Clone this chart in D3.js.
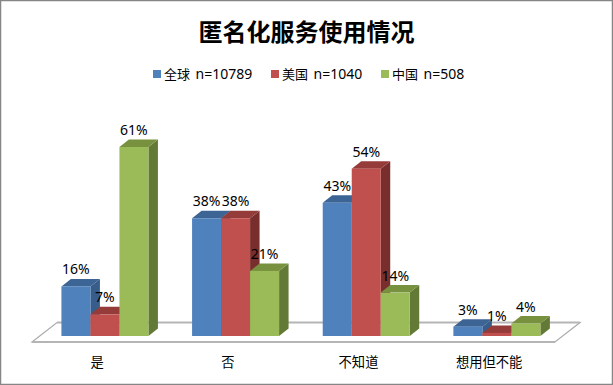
<!DOCTYPE html>
<html><head><meta charset="utf-8">
<script src="https://cdn.jsdelivr.net/npm/d3@7"></script>
<style>html,body{margin:0;padding:0;background:#fff}svg{display:block}</style>
</head><body><svg id="c" width="613" height="385"></svg>
<script>
const title = "匿名化服务使用情况";
const categories = ["是","否","不知道","想用但不能"];
const seriesNames = ["全球 n=10789","美国 n=1040","中国 n=508"];
const globalValues = [16,38,43,3];
const usValues = [7,38,54,1];
const chinaValues = [61,21,14,4];
const seriesValues = [globalValues,usValues,chinaValues];
const palette = [
 {front:"#4F81BD",top:"#3C6494",side:"#385D8A"},
 {front:"#C0504D",top:"#953B39",side:"#772E2C"},
 {front:"#9BBB59",top:"#78913F",side:"#637A36"}];
const font = "'Noto Sans CJK SC','Noto Sans',sans-serif";
const latin = "'Noto Sans','Noto Sans CJK SC',sans-serif";
const svg = d3.select("#c");
svg.append("rect").attr("x",.5).attr("y",.5).attr("width",612).attr("height",384)
  .attr("fill","#fff").attr("stroke","#868686").attr("stroke-width",1.5);
svg.append("text").attr("x",306.5).attr("y",41).attr("text-anchor","middle")
  .attr("font-family",font).attr("font-weight",700).attr("font-size",24).attr("fill","#000").text(title);

// legend
const legendX = [153,271,381];
seriesNames.forEach((n,i)=>{
  const [a,b] = n.split(" ");
  svg.append("rect").attr("x",legendX[i]).attr("y",70).attr("width",8).attr("height",8).attr("fill",palette[i].front);
  const t = svg.append("text").attr("x",legendX[i]+11).attr("y",79).attr("fill","#000");
  t.append("tspan").attr("font-family",font).attr("font-size",13).text(a);
  t.append("tspan").attr("dx",5.5).attr("font-family",latin).attr("font-size",14).text(b);
});

const dx = 9.5, dy = 7.5, floorDx = 25, floorDy = 19.5;
const x = d3.scaleBand().domain(categories).range([39.4,562]);
const xs = d3.scaleBand().domain(d3.range(3)).range([0,87]);
const y = d3.scaleLinear().domain([0,61]).range([336,147]);
const floorL = 32, floorR = 555, floorFront = 342;
svg.append("path").attr("d",`M${floorL},${floorFront}L${floorL+floorDx},${floorFront-floorDy}L${floorR+floorDx},${floorFront-floorDy}L${floorR},${floorFront}Z`)
  .attr("fill","#fff").attr("stroke","#ABABAB").attr("stroke-width",1.2);
svg.append("line").attr("x1",floorL+floorDx).attr("x2",floorR+floorDx).attr("y1",floorFront-floorDy).attr("y2",floorFront-floorDy).attr("stroke","#B5B5B5").attr("stroke-width",2);
svg.append("line").attr("x1",floorL).attr("x2",floorR).attr("y1",floorFront).attr("y2",floorFront).attr("stroke","#B5B5B5").attr("stroke-width",2);

const g = svg.append("g");
const labels = [];
categories.forEach((c,ci)=>{
  const x0 = x(c)+(x.bandwidth()-87)/2+0.2;
  [0,1,2].forEach(si=>{
    const v = seriesValues[si][ci];
    const l = x0+xs(si), r = l+xs.bandwidth(), t = y(v), b = y(0), p = palette[si];
    g.append("path").attr("d",`M${r},${b}L${r+dx},${b-dy}L${r+dx},${t-dy}L${r},${t}Z`).attr("fill",p.side);
    g.append("path").attr("d",`M${l},${t}L${l+dx},${t-dy}L${r+dx},${t-dy}L${r},${t}Z`).attr("fill",p.top);
    g.append("rect").attr("x",l).attr("y",t).attr("width",r-l).attr("height",b-t).attr("fill",p.front);
    labels.push({x:(l+r)/2,y:t-12,t:v+"%"});
  });
  svg.append("text").attr("x",x(c)+x.bandwidth()/2-7.5).attr("y",367).attr("text-anchor","middle")
    .attr("font-family",font).attr("font-size",13.3).attr("fill","#000").text(c);
});
labels.forEach(d=>svg.append("text").attr("x",d.x).attr("y",d.y).attr("text-anchor","middle")
  .attr("font-family",latin).attr("font-size",14).attr("fill","#000").text(d.t));
</script></body></html>
